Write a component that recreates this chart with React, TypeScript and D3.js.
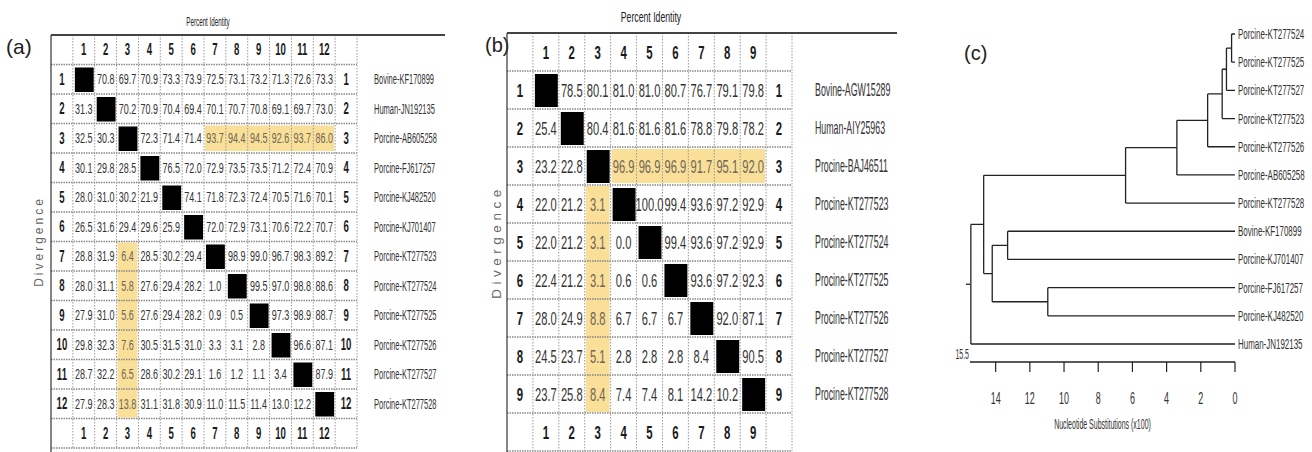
import { useMemo } from 'react';
import * as d3 from 'd3';

// ---- panel (a): 12 VP1 sequences ----
const labelsA = [
  'Bovine-KF170899', 'Human-JN192135', 'Porcine-AB605258', 'Porcine-FJ617257',
  'Porcine-KJ482520', 'Porcine-KJ701407', 'Porcine-KT277523', 'Porcine-KT277524',
  'Porcine-KT277525', 'Porcine-KT277526', 'Porcine-KT277527', 'Porcine-KT277528',
];
// null = diagonal (black cell); upper triangle = percent identity, lower = divergence
const matrixA: (number | null)[][] = [
  [null, 70.8, 69.7, 70.9, 73.3, 73.9, 72.5, 73.1, 73.2, 71.3, 72.6, 73.3],
  [31.3, null, 70.2, 70.9, 70.4, 69.4, 70.1, 70.7, 70.8, 69.1, 69.7, 73.0],
  [32.5, 30.3, null, 72.3, 71.4, 71.4, 93.7, 94.4, 94.5, 92.6, 93.7, 86.0],
  [30.1, 29.8, 28.5, null, 76.5, 72.0, 72.9, 73.5, 73.5, 71.2, 72.4, 70.9],
  [28.0, 31.0, 30.2, 21.9, null, 74.1, 71.8, 72.3, 72.4, 70.5, 71.6, 70.1],
  [26.5, 31.6, 29.4, 29.6, 25.9, null, 72.0, 72.9, 73.1, 70.6, 72.2, 70.7],
  [28.8, 31.9, 6.4, 28.5, 30.2, 29.4, null, 98.9, 99.0, 96.7, 98.3, 89.2],
  [28.0, 31.1, 5.8, 27.6, 29.4, 28.2, 1.0, null, 99.5, 97.0, 98.8, 88.6],
  [27.9, 31.0, 5.6, 27.6, 29.4, 28.2, 0.9, 0.5, null, 97.3, 98.9, 88.7],
  [29.8, 32.3, 7.6, 30.5, 31.5, 31.0, 3.3, 3.1, 2.8, null, 96.6, 87.1],
  [28.7, 32.2, 6.5, 28.6, 30.2, 29.1, 1.6, 1.2, 1.1, 3.4, null, 87.9],
  [27.9, 28.3, 13.8, 31.1, 31.8, 30.9, 11.0, 11.5, 11.4, 13.0, 12.2, null],
];
// shaded row/column (1-based) and the first index the shading covers
const highlightA = { at: 3, from: 7 };

// ---- panel (b): 9 sequences ----
const labelsB = [
  'Bovine-AGW15289', 'Human-AIY25963', 'Procine-BAJ46511', 'Procine-KT277523',
  'Procine-KT277524', 'Procine-KT277525', 'Procine-KT277526', 'Procine-KT277527',
  'Procine-KT277528',
];
const matrixB: (number | null)[][] = [
  [null, 78.5, 80.1, 81.0, 81.0, 80.7, 76.7, 79.1, 79.8],
  [25.4, null, 80.4, 81.6, 81.6, 81.6, 78.8, 79.8, 78.2],
  [23.2, 22.8, null, 96.9, 96.9, 96.9, 91.7, 95.1, 92.0],
  [22.0, 21.2, 3.1, null, 100.0, 99.4, 93.6, 97.2, 92.9],
  [22.0, 21.2, 3.1, 0.0, null, 99.4, 93.6, 97.2, 92.9],
  [22.4, 21.2, 3.1, 0.6, 0.6, null, 93.6, 97.2, 92.3],
  [28.0, 24.9, 8.8, 6.7, 6.7, 6.7, null, 92.0, 87.1],
  [24.5, 23.7, 5.1, 2.8, 2.8, 2.8, 8.4, null, 90.5],
  [23.7, 25.8, 8.4, 7.4, 7.4, 8.1, 14.2, 10.2, null],
];
const highlightB = { at: 3, from: 4 };

// ---- panel (c): tree (node heights in nucleotide substitutions x100) ----
interface TreeNode { name?: string; h: number; children?: TreeNode[] }
const leaf = (name: string): TreeNode => ({ name, h: 0 });
const tree: TreeNode = {
  h: 15.45, children: [
    { h: 14.7, children: [
      { h: 6.4, children: [
        { h: 3.4, children: [
          { h: 1.6, children: [
            { h: 0.75, children: [
              { h: 0.5, children: [
                { h: 0.2, children: [leaf('Porcine-KT277524'), leaf('Porcine-KT277525')] },
                leaf('Porcine-KT277527'),
              ] },
              leaf('Porcine-KT277523'),
            ] },
            leaf('Porcine-KT277526'),
          ] },
          leaf('Porcine-AB605258'),
        ] },
        leaf('Porcine-KT277528'),
      ] },
      { h: 14.2, children: [
        { h: 13.3, children: [leaf('Bovine-KF170899'), leaf('Porcine-KJ701407')] },
        { h: 10.95, children: [leaf('Porcine-FJ617257'), leaf('Porcine-KJ482520')] },
      ] },
    ] },
    leaf('Human-JN192135'),
  ],
};
const treeTicks = [14, 12, 10, 8, 6, 4, 2, 0];
const scaleLabel = '15.5';

const FONT = "'Liberation Sans', Arial, sans-serif";
const YELLOW = '#f9df97';

// condensed text: the reference uses a tall, narrow (stretched Arial Narrow) look
function NT({ x, y, size = 12, sx = 0.68, anchor = 'start', weight = 'normal', fill = '#333', children }: {
  x: number; y: number; size?: number; sx?: number; anchor?: string; weight?: string; fill?: string; children: any;
}) {
  return (
    <text transform={`translate(${x},${y}) scale(${sx},1)`} textAnchor={anchor} dominantBaseline="central"
      fontFamily={FONT} fontSize={size} fontWeight={weight} fill={fill}>{children}</text>
  );
}

interface Fonts { val: number; valSx: number; num: number; numSx: number; lab: number; labSx: number; title: number; titleSx: number; div: number; divLs: number; tag: number }

interface MatrixProps {
  labels: string[];
  matrix: (number | null)[][];
  hi: { at: number; from: number };
  left: number; right: number; top: number; bottom: number;
  lineEnd: number; labelX: number;
  titleX: number; titleY: number;
  divX: number;
  tag: string; tagX: number; tagY: number;
  fs: Fonts;
}

function Matrix(p: MatrixProps) {
  const n = p.labels.length;
  const idx = d3.range(n + 2);
  const x = d3.scaleBand<number>().domain(idx).range([p.left, p.right]);
  const y = d3.scaleBand<number>().domain(idx).range([p.top, p.bottom]);
  const bw = x.bandwidth();
  const bh = y.bandwidth();
  const nums = d3.range(1, n + 1);
  const { at, from } = p.hi;
  const fs = p.fs;
  const isShaded = (r: number, c: number) => (r === at && c >= from) || (c === at && r >= from);
  const num = (k: number, cx: number, cy: number) => (
    <NT x={cx} y={cy} size={fs.num} sx={fs.numSx} anchor="middle" weight="bold" fill="#1a1a1a">{k}</NT>
  );

  return (
    <g>
      <text x={p.tagX} y={p.tagY} fontFamily={FONT} fontSize={fs.tag} fill="#222">{p.tag}</text>
      <NT x={p.titleX} y={p.titleY} size={fs.title} sx={fs.titleSx} anchor="middle" fill="#222">Percent Identity</NT>
      <text transform={`translate(${p.divX},${(p.top + p.bottom) / 2}) rotate(-90)`} textAnchor="middle"
        fontFamily={FONT} fontSize={fs.div} letterSpacing={fs.divLs} fill="#666" dominantBaseline="middle">Divergence</text>

      {/* shaded row and column */}
      <rect x={x(from)! + 1} y={y(at)! + 2} width={x(n)! + bw - x(from)! - 2} height={bh - 4} fill={YELLOW} />
      <rect x={x(at)! + 1} y={y(from)! + 1} width={bw - 2} height={y(n)! + bh - y(from)! - 2} fill={YELLOW} />

      {/* grid */}
      {d3.range(1, n + 2).map(i => (
        <line key={'h' + i} x1={p.left} x2={p.right} y1={y(i)} y2={y(i)} stroke="#888" strokeWidth={1.4} strokeDasharray="1.5,1" />
      ))}
      <line x1={p.left} x2={p.right} y1={p.bottom} y2={p.bottom} stroke="#888" strokeWidth={1.4} strokeDasharray="1.5,1" />
      {d3.range(1, n + 2).map(i => (
        <line key={'v' + i} x1={x(i)} x2={x(i)} y1={p.top} y2={p.bottom} stroke="#999" strokeWidth={1} strokeDasharray="1.5,1.5" />
      ))}
      <line x1={p.right} x2={p.right} y1={p.top} y2={p.bottom} stroke="#999" strokeWidth={1} strokeDasharray="1.5,1.5" />
      <line x1={p.left} x2={p.left} y1={p.top} y2={452} stroke="#333" strokeWidth={1.2} />
      <line x1={p.left} x2={p.lineEnd} y1={p.top} y2={p.top} stroke="#444" strokeWidth={2.2} />

      {/* header and footer numbers */}
      {nums.map(k => (
        <g key={'n' + k}>
          {num(k, x(k)! + bw / 2, y(0)! + bh / 2)}
          {num(k, x(k)! + bw / 2, y(n + 1)! + bh / 2)}
          {num(k, x(0)! + bw / 2, y(k)! + bh / 2)}
          {num(k, x(n + 1)! + bw / 2, y(k)! + bh / 2)}
        </g>
      ))}

      {/* cells */}
      {p.matrix.map((row, r) => row.map((v, c) => {
        const cx = x(c + 1)!;
        const cy = y(r + 1)!;
        if (v === null) {
          return <rect key={r + '-' + c} x={cx + 2} y={cy + 3} width={bw - 3} height={bh - 5} fill="#000" />;
        }
        return (
          <NT key={r + '-' + c} x={cx + bw / 2} y={cy + bh / 2} size={fs.val} sx={fs.valSx} anchor="middle"
            fill={isShaded(r + 1, c + 1) ? '#6e6657' : '#333'}>{v.toFixed(1)}</NT>
        );
      }))}

      {/* sequence labels */}
      {p.labels.map((l, i) => (
        <NT key={l} x={p.labelX} y={y(i + 1)! + bh / 2} size={fs.lab} sx={fs.labSx}>{l}</NT>
      ))}
    </g>
  );
}

function Tree() {
  const root = useMemo(() => d3.hierarchy<TreeNode>(tree), []);
  const x = d3.scaleLinear().domain([0, 15.5]).range([1235, 970]);
  const leaves = root.leaves();
  const yLeaf = d3.scalePoint<string>().domain(leaves.map(d => d.data.name!)).range([34, 344]);

  const ys = new Map<d3.HierarchyNode<TreeNode>, number>();
  root.eachAfter(d => {
    if (!d.children) ys.set(d, yLeaf(d.data.name!)!);
    else ys.set(d, (ys.get(d.children[0])! + ys.get(d.children[d.children.length - 1])!) / 2);
  });

  const paths: string[] = [];
  root.each(d => {
    if (!d.children) return;
    const px = x(d.data.h);
    const cys = d.children.map(c => ys.get(c)!);
    paths.push(`M${px},${d3.min(cys)}V${d3.max(cys)}`);
    d.children.forEach(c => paths.push(`M${px},${ys.get(c)}H${x(c.data.h)}`));
  });
  const rootY = ys.get(root)!;
  const axisY = 362;

  return (
    <g>
      <text x={964} y={60} fontFamily={FONT} fontSize={20} fill="#222">(c)</text>
      <path d={paths.join('')} fill="none" stroke="#222" strokeWidth={1.3} />
      <line x1={x(15.5) - 4} x2={x(15.5)} y1={rootY} y2={rootY} stroke="#222" strokeWidth={1.3} />
      {leaves.map(l => (
        <NT key={l.data.name} x={1238} y={ys.get(l)!} size={15} sx={0.53}>{l.data.name}</NT>
      ))}

      <line x1={x(15.5)} x2={x(0)} y1={axisY} y2={axisY} stroke="#222" strokeWidth={1.3} />
      {treeTicks.map(t => (
        <g key={t}>
          <line x1={x(t)} x2={x(t)} y1={axisY} y2={axisY + 10} stroke="#222" strokeWidth={1.2} />
          <NT x={x(t)} y={axisY + 36} size={16} sx={0.56} anchor="middle">{t}</NT>
        </g>
      ))}
      <NT x={x(15.5) - 1} y={axisY - 8} size={14} sx={0.5} anchor="end">{scaleLabel}</NT>
      <NT x={(x(15.5) + x(0)) / 2} y={axisY + 62} size={14} sx={0.5} anchor="middle">
        Nucleotide Substitutions (x100)
      </NT>
    </g>
  );
}

const fontsA: Fonts = { val: 15, valSx: 0.6, num: 16, numSx: 0.6, lab: 15, labSx: 0.5, title: 13, titleSx: 0.48, div: 12, divLs: 3, tag: 21 };
const fontsB: Fonts = { val: 18, valSx: 0.62, num: 19, numSx: 0.6, lab: 18, labSx: 0.49, title: 15, titleSx: 0.58, div: 13.5, divLs: 4.5, tag: 20 };

export default function App() {
  return (
    <svg width={1312} height={452} style={{ position: 'fixed', left: 0, top: 0, background: '#fff' }}>
      <rect width={1312} height={452} fill="#fff" />
      <Matrix labels={labelsA} matrix={matrixA} hi={highlightA} fs={fontsA}
        left={51} right={357} top={35} bottom={448} lineEnd={445} labelX={374}
        titleX={208} titleY={22} divX={40} tag="(a)" tagX={6} tagY={54} />
      <Matrix labels={labelsB} matrix={matrixB} hi={highlightB} fs={fontsB}
        left={507} right={792} top={33} bottom={451} lineEnd={897} labelX={815}
        titleX={651} titleY={17} divX={497} tag="(b)" tagX={485} tagY={52} />
      <Tree />
    </svg>
  );
}
